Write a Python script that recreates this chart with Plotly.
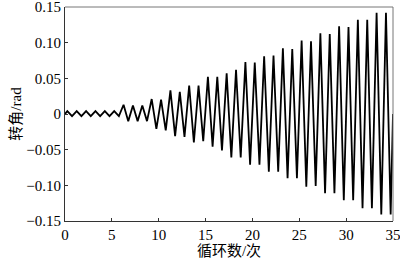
import plotly.graph_objects as go

# Cycle indices 0..34; each cycle has one peak (at n+0.25) and one trough (at n+0.75)
cycles = list(range(35))
peaks = [0.004, 0.004, 0.004, 0.004, 0.004, 0.004,
         0.013, 0.012, 0.012, 0.021, 0.020, 0.033, 0.031, 0.040, 0.040,
         0.052, 0.052, 0.057, 0.062, 0.073, 0.072, 0.081, 0.082, 0.092, 0.091,
         0.103, 0.102, 0.113, 0.112, 0.123, 0.122, 0.132, 0.132, 0.142, 0.142]
troughs = [-0.003, -0.003, -0.003, -0.003, -0.003, -0.003,
           -0.010, -0.010, -0.010, -0.021, -0.023, -0.031, -0.032, -0.040, -0.038,
           -0.046, -0.051, -0.061, -0.061, -0.071, -0.071, -0.081, -0.081, -0.090, -0.090,
           -0.102, -0.101, -0.111, -0.111, -0.121, -0.121, -0.132, -0.132, -0.141, -0.141]
start_value = 0.0
end_value = 0.0
end_cycle = 35

x_ticks = [0, 5, 10, 15, 20, 25, 30, 35]
y_ticks = [-0.15, -0.10, -0.05, 0, 0.05, 0.10, 0.15]
y_ticktext = ["\u22120.15", "\u22120.10", "\u22120.05", "0", "0.05", "0.10", "0.15"]

xs = [0]
ys = [start_value]
for c, p, t in zip(cycles, peaks, troughs):
    xs += [c + 0.25, c + 0.75]
    ys += [p, t]
xs.append(end_cycle)
ys.append(end_value)

fig = go.Figure()
fig.add_trace(go.Scatter(x=xs, y=ys, mode="lines",
                         line=dict(color="black", width=1.8),
                         showlegend=False, hoverinfo="skip", cliponaxis=False))

tick_font = dict(family="Liberation Serif, Times New Roman, serif", size=15, color="black")
title_font = dict(family="Liberation Serif, Noto Sans CJK SC", size=15, color="black")

fig.update_layout(
    width=400, height=259,
    margin=dict(l=65, r=7, t=7, b=38),
    paper_bgcolor="white", plot_bgcolor="white",
    xaxis=dict(range=[0, 35], tickvals=x_ticks, ticks="inside", ticklen=3,
               tickcolor="#333", showline=True, linecolor="#333", linewidth=1,
               showgrid=False, zeroline=False, tickfont=tick_font,
               ticklabeloverflow="allow", automargin=False,
               title=dict(text="循环数/次", font=title_font, standoff=0)),
    yaxis=dict(range=[-0.15, 0.15], tickvals=y_ticks, ticktext=y_ticktext,
               ticks="inside", ticklen=3, tickcolor="#333", showline=True,
               linecolor="#333", linewidth=1, showgrid=False, zeroline=False,
               tickfont=tick_font, ticklabeloverflow="allow", automargin=False,
               title=dict(text="转角/rad", font=title_font, standoff=1)),
    shapes=[
        dict(type="line", xref="paper", yref="paper", x0=0, x1=1, y0=1, y1=1,
             line=dict(color="#777", width=1)),
        dict(type="line", xref="paper", yref="paper", x0=1, x1=1, y0=0, y1=1,
             line=dict(color="#777", width=1)),
    ],
)

fig.write_html("out.html")
